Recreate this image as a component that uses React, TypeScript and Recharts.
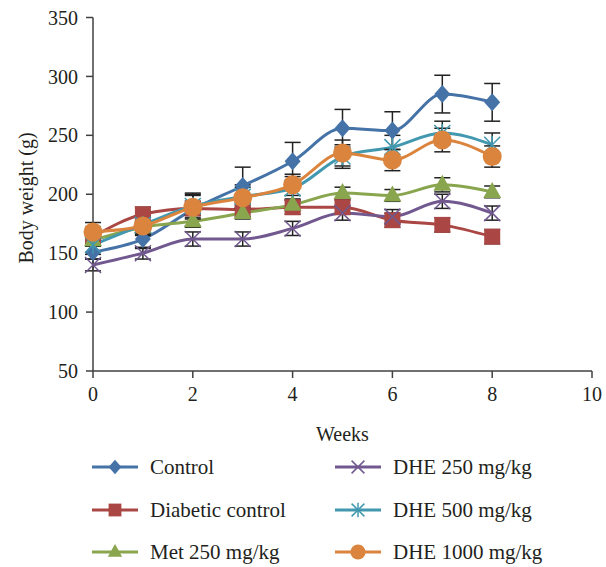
import React from 'react';
import { LineChart, Line, XAxis, YAxis, ErrorBar, Legend } from 'recharts';

const weeks = [0, 1, 2, 3, 4, 5, 6, 7, 8];
const control = [151, 162, 187, 207, 228, 256, 254, 285, 278];
const controlErr = [6, 8, 14, 16, 16, 16, 16, 16, 16];
const diabetic = [164, 183, 188, 187, 189, 189, 178, 174, 164];
const diabeticErr = [8, 6, 6, 6, 6, 6, 6, 6, 6];
const met = [161, 172, 177, 184, 191, 201, 199, 208, 202];
const metErr = [5, 5, 5, 5, 5, 5, 5, 6, 5];
const dhe250 = [140, 150, 162, 162, 171, 184, 181, 194, 184];
const dhe250Err = [5, 5, 6, 6, 6, 6, 6, 6, 6];
const dhe500 = [157, 174, 190, 198, 205, 232, 240, 252, 242];
const dhe500Err = [8, 8, 10, 10, 10, 10, 10, 10, 10];
const dhe1000 = [168, 173, 189, 197, 208, 235, 229, 246, 232];
const dhe1000Err = [8, 8, 10, 9, 9, 11, 9, 10, 9];

const xTicks = [0, 2, 4, 6, 8, 10];
const yTicks = [50, 100, 150, 200, 250, 300, 350];

const FONT = '"Liberation Serif", "DejaVu Serif", serif';
const TEXT = '#231f20';

type Kind = 'diamond' | 'square' | 'triangle' | 'x' | 'star' | 'circle';

const series: { key: string; name: string; color: string; kind: Kind }[] = [
  { key: 'control', name: 'Control', color: '#4572A7', kind: 'diamond' },
  { key: 'diabetic', name: 'Diabetic control', color: '#AA4643', kind: 'square' },
  { key: 'met', name: 'Met 250 mg/kg', color: '#89A54E', kind: 'triangle' },
  { key: 'dhe250', name: 'DHE 250 mg/kg', color: '#71588F', kind: 'x' },
  { key: 'dhe500', name: 'DHE 500 mg/kg', color: '#4198AF', kind: 'star' },
  { key: 'dhe1000', name: 'DHE 1000 mg/kg', color: '#DB843D', kind: 'circle' },
];

const data = weeks.map((w, i) => ({
  week: w,
  control: control[i],
  controlErr: controlErr[i],
  diabetic: diabetic[i],
  diabeticErr: diabeticErr[i],
  met: met[i],
  metErr: metErr[i],
  dhe250: dhe250[i],
  dhe250Err: dhe250Err[i],
  dhe500: dhe500[i],
  dhe500Err: dhe500Err[i],
  dhe1000: dhe1000[i],
  dhe1000Err: dhe1000Err[i],
}));

function Marker({ kind, cx, cy, color, s = 1 }: { kind: Kind; cx: number; cy: number; color: string; s?: number }) {
  switch (kind) {
    case 'diamond':
      return <polygon points={`${cx},${cy - 9 * s} ${cx + 8 * s},${cy} ${cx},${cy + 9 * s} ${cx - 8 * s},${cy}`} fill={color} />;
    case 'square':
      return <rect x={cx - 8 * s} y={cy - 8 * s} width={16 * s} height={16 * s} fill={color} />;
    case 'triangle':
      return <polygon points={`${cx},${cy - 10 * s} ${cx + 9 * s},${cy + 6 * s} ${cx - 9 * s},${cy + 6 * s}`} fill={color} />;
    case 'x':
      return (
        <g stroke={color} strokeWidth={1.5}>
          <line x1={cx - 8 * s} y1={cy - 8 * s} x2={cx + 8 * s} y2={cy + 8 * s} />
          <line x1={cx - 8 * s} y1={cy + 8 * s} x2={cx + 8 * s} y2={cy - 8 * s} />
        </g>
      );
    case 'star':
      return (
        <g stroke={color} strokeWidth={1.5}>
          <line x1={cx - 8 * s} y1={cy - 8 * s} x2={cx + 8 * s} y2={cy + 8 * s} />
          <line x1={cx - 8 * s} y1={cy + 8 * s} x2={cx + 8 * s} y2={cy - 8 * s} />
          <line x1={cx} y1={cy - 9 * s} x2={cx} y2={cy + 9 * s} />
        </g>
      );
    default:
      return <circle cx={cx} cy={cy} r={9.5 * s} fill={color} />;
  }
}

const legendRows = [26, 69, 111];

function LegendBox() {
  return (
    <div style={{ position: 'relative', width: 606, height: 126, fontFamily: FONT, fontSize: 21, color: TEXT }}>
      {series.map((s, i) => {
        const col = Math.floor(i / 3);
        const row = i % 3;
        return (
          <div
            key={s.key}
            style={{
              position: 'absolute',
              left: col === 0 ? 92 : 335,
              top: legendRows[row] - 13,
              height: 26,
              display: 'flex',
              alignItems: 'center',
              whiteSpace: 'nowrap',
            }}
          >
            <svg width={46} height={24} style={{ display: 'block' }}>
              <line x1={0} y1={12} x2={46} y2={12} stroke={s.color} strokeWidth={3} />
              <Marker kind={s.kind} cx={23} cy={12} color={s.color} s={0.8} />
            </svg>
            <span style={{ marginLeft: 12 }}>{s.name}</span>
          </div>
        );
      })}
    </div>
  );
}

export default function App() {
  const tick = { fill: TEXT, fontSize: 20, fontFamily: FONT };
  const axisColor = '#404040';
  return (
    <div style={{ position: 'absolute', left: 0, top: 0, width: 606, height: 567, background: '#fff' }}>
      <LineChart
        width={606}
        height={567}
        data={data}
        margin={{ top: 17.5, right: 14, bottom: 0, left: 0 }}
      >
        <XAxis
          dataKey="week"
          type="number"
          domain={[0, 10]}
          ticks={xTicks}
          tick={tick}
          tickSize={7}
          tickMargin={9}
          height={70}
          stroke={axisColor}
          strokeWidth={1.5}
          label={{
            content: (props: any) => {
              const vb = props.viewBox || { x: 93, y: 371, width: 499 };
              return (
                <text x={vb.x + vb.width / 2} y={vb.y + 70} textAnchor="middle" fill={TEXT} fontSize={20} fontFamily={FONT}>
                  Weeks
                </text>
              );
            },
          }}
        />
        <YAxis
          type="number"
          domain={[50, 350]}
          ticks={yTicks}
          tick={tick}
          tickSize={7}
          tickMargin={8}
          width={93}
          stroke={axisColor}
          strokeWidth={1.5}
          label={{
            content: () => (
              <text x={33} y={198} transform="rotate(-90, 33, 198)" textAnchor="middle" fill={TEXT} fontSize={20} fontFamily={FONT}>
                Body weight (g)
              </text>
            ),
          }}
        />
        <Legend verticalAlign="bottom" wrapperStyle={{ left: 0, width: 606, height: 126 }} content={() => <LegendBox />} />
        {series.map((s) => (
          <Line
            key={s.key}
            dataKey={s.key}
            name={s.name}
            type="monotone"
            stroke={s.color}
            strokeWidth={3}
            isAnimationActive={false}
            activeDot={false}
            dot={(p: any) => <Marker key={`${s.key}-${p.index}`} kind={s.kind} cx={p.cx} cy={p.cy} color={s.color} />}
          >
            <ErrorBar dataKey={`${s.key}Err`} width={8} stroke="#222" strokeWidth={1.5} direction="y" />
          </Line>
        ))}
      </LineChart>
    </div>
  );
}
